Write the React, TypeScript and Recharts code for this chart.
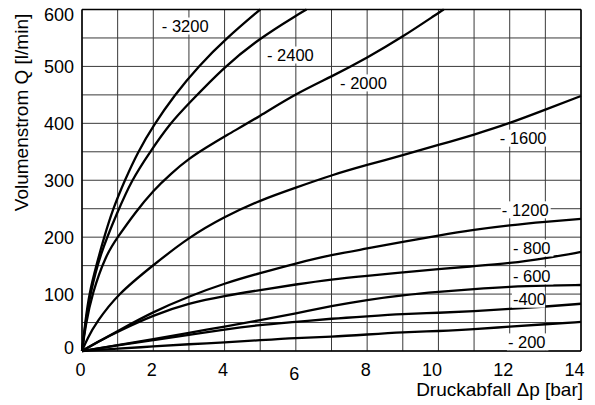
import React from 'react';
import { LineChart, Line, XAxis, YAxis, CartesianGrid, ReferenceLine, ReferenceDot, Label } from 'recharts';

type P = [number, number];

const X_TICKS = [0, 1, 2, 3, 4, 5, 6, 7, 8, 9, 10, 11, 12, 13, 14];
const Y_TICKS = [0, 50, 100, 150, 200, 250, 300, 350, 400, 450, 500, 550, 600];

const q3200: P[] = [[0, 0], [0.1, 55], [0.2, 100], [0.4, 150], [0.62, 200], [0.87, 250], [1.2, 300], [1.57, 350], [2, 396], [2.6, 450], [3.26, 500], [4.06, 550], [5, 600]];
const q2400: P[] = [[0, 0], [0.1, 50], [0.23, 100], [0.5, 169], [1, 245], [1.39, 300], [1.91, 350], [2.47, 400], [3, 435], [4, 500], [5, 550], [6, 589], [6.3, 600]];
const q2000: P[] = [[0, 0], [0.1, 45], [0.28, 100], [0.67, 169], [1, 200], [1.5, 244], [2, 282], [2.5, 312], [3, 338], [3.5, 358], [4, 377], [5, 413], [6, 452], [7, 482], [8, 515], [9, 552], [10, 594], [10.15, 600]];
const q1600: P[] = [[0, 0], [0.15, 22], [0.4, 50], [1, 100], [2, 151], [3, 200], [4, 236], [5, 265], [6, 287], [7, 309], [8, 327], [9, 344], [10, 362], [11, 380], [12, 400], [13, 424], [14, 448]];
const q1200: P[] = [[0, 0], [0.5, 18], [1, 35], [2, 69], [3, 96], [4, 119], [5, 137], [6, 154], [7, 169], [8, 180], [9, 192], [10, 203], [11, 213], [12, 221], [13, 227], [14, 232]];
const q800: P[] = [[0, 0], [0.5, 18], [1, 34], [2, 63], [3, 84], [4, 97], [5, 107], [6, 117], [7, 126], [8, 132], [9, 138], [10, 144], [11, 149], [12, 154], [13, 163], [14, 174]];
const q600: P[] = [[0, 0], [1, 10], [2, 21], [3, 32], [4, 43], [5, 54], [6, 66], [7, 79], [8, 90], [9, 98], [10, 104], [11, 109], [12, 113], [13, 115], [14, 116]];
const q400: P[] = [[0, 0], [1, 10], [2, 19], [3, 28], [4, 38], [5, 46], [6, 51], [7, 57], [8, 61], [9, 65], [10, 67], [11, 70], [12, 74], [13, 78], [14, 83]];
const q200: P[] = [[0, 0], [1, 4], [2, 8], [3, 12], [4, 15], [5, 19], [6, 23], [7, 25], [8, 29], [9, 33], [10, 35], [11, 38], [12, 43], [13, 47], [14, 51]];

const SERIES: P[][] = [q3200, q2400, q2000, q1600, q1200, q800, q600, q400, q200];

const LABEL_TEXT = ['- 3200', '- 2400', '- 2000', '- 1600', '- 1200', '- 800', '- 600', '-400', '- 200'];
const LABEL_X = [2.24, 5.19, 7.24, 11.72, 11.78, 12.09, 12.09, 12.09, 11.95];
const LABEL_Q = [571, 520, 471, 374, 248, 181, 132, 91, 16];

const FONT = '"Liberation Sans", Arial, Helvetica, sans-serif';

const XTick = (props: any) => {
  const { x, y, payload } = props;
  const v = payload.value;
  if (v % 2 !== 0) return <g />;
  const dy = v === 6 ? 28.5 : 24.5;
  return (
    <text x={x + 3.5} y={y + dy} textAnchor="end" fontSize={18} fontFamily={FONT} fill="#000">
      {v}
    </text>
  );
};

const YTick = (props: any) => {
  const { x, y, payload } = props;
  const v = payload.value;
  if (v % 100 !== 0) return <g />;
  let shift = 0;
  if (v === 0) shift = -4;
  if (v === 600) shift = 4.5;
  return (
    <text x={x - 8} y={y + 6.5 + shift} textAnchor="end" fontSize={18} fontFamily={FONT} fill="#000">
      {v}
    </text>
  );
};

const CurveLabel = ({ cx, cy, text }: { cx: number; cy: number; text: string }) => {
  const w = text.length * 8.3;
  return (
    <g>
      <rect x={cx - 1} y={cy - 8.5} width={w} height={17} fill="#fff" />
      <text x={cx} y={cy + 6} fontSize={16.5} fontFamily={FONT} fill="#000">
        {text}
      </text>
    </g>
  );
};

export default function App() {
  return (
    <div style={{ position: 'absolute', left: 0, top: 0 }}>
      <LineChart width={595} height={405} margin={{ top: 9.5, right: 14, left: 0, bottom: 0 }}>
        <CartesianGrid stroke="#3a3a3a" strokeWidth={1} />
        <XAxis
          type="number"
          dataKey="x"
          domain={[0, 14]}
          ticks={X_TICKS}
          interval={0}
          height={54}
          tickSize={0}
          tickMargin={0}
          tickLine={false}
          axisLine={{ stroke: '#000', strokeWidth: 1.5 }}
          tick={<XTick />}
        >
          <Label
            content={(p: any) => {
              const vb = p.viewBox;
              return (
                <text x={vb.x + vb.width + 2} y={vb.y + 45} textAnchor="end" fontSize={19} fontFamily={FONT} fill="#000">
                  Druckabfall Δp [bar]
                </text>
              );
            }}
          />
        </XAxis>
        <YAxis
          type="number"
          domain={[0, 600]}
          ticks={Y_TICKS}
          interval={0}
          width={82}
          tickSize={0}
          tickMargin={0}
          tickLine={false}
          axisLine={{ stroke: '#000', strokeWidth: 1.5 }}
          tick={<YTick />}
        >
          <Label
            content={() => (
              <text
                x={28}
                y={112.5}
                transform="rotate(-90 28 112.5)"
                textAnchor="middle"
                fontSize={19}
                fontFamily={FONT}
                fill="#000"
              >
                Volumenstrom Q [l/min]
              </text>
            )}
          />
        </YAxis>
        <ReferenceLine x={14} stroke="#000" strokeWidth={1.5} />
        <ReferenceLine y={600} stroke="#000" strokeWidth={1.5} />
        {SERIES.map((s, i) => (
          <Line
            key={i}
            data={s.map(([x, q]) => ({ x, q }))}
            dataKey="q"
            type="basis"
            stroke="#000"
            strokeWidth={2.3}
            dot={false}
            activeDot={false}
            isAnimationActive={false}
          />
        ))}
        {LABEL_TEXT.map((t, i) => (
          <ReferenceDot
            key={t}
            x={LABEL_X[i]}
            y={LABEL_Q[i]}
            r={0}
            isFront
            shape={(p: any) => <CurveLabel cx={p.cx} cy={p.cy} text={t} />}
          />
        ))}
      </LineChart>
    </div>
  );
}
